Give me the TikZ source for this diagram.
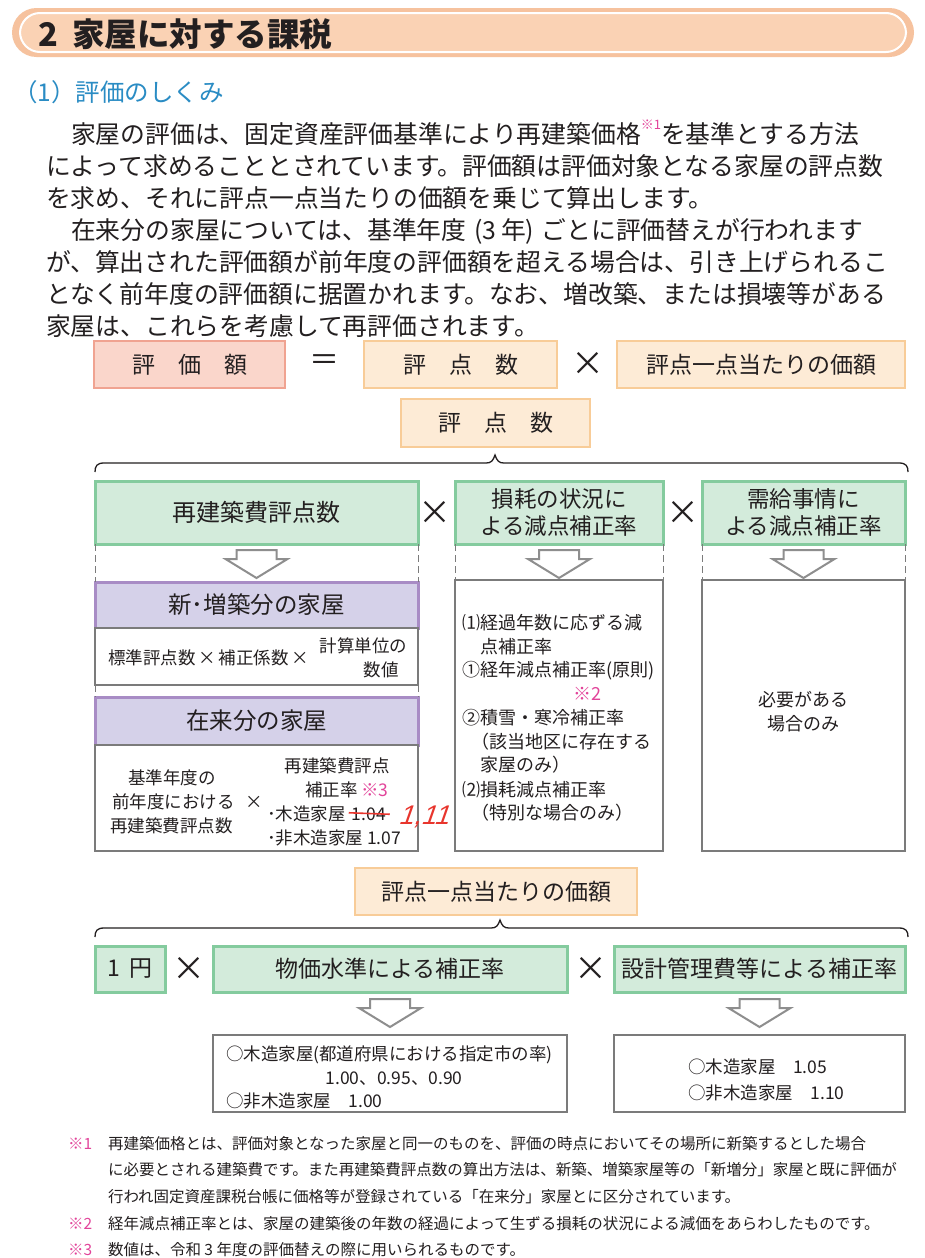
\documentclass[tikz,border=0pt]{standalone}
\usepackage{fontspec}
\setmainfont{Noto Sans CJK JP}
\newfontfamily\handfont{Liberation Sans}[FakeSlant=0.35]
\definecolor{pillout}{HTML}{F6C29E}
\definecolor{pillin}{HTML}{FAD2B4}
\definecolor{headblue}{HTML}{2A8CC4}
\definecolor{pinkfill}{HTML}{FAD6CB}
\definecolor{pinkline}{HTML}{F0A391}
\definecolor{creamfill}{HTML}{FDEBD6}
\definecolor{creamline}{HTML}{F8CC98}
\definecolor{greenfill}{HTML}{D3EBDB}
\definecolor{greenline}{HTML}{84CB9E}
\definecolor{purplefill}{HTML}{D5D1E9}
\definecolor{purpleline}{HTML}{A88CC5}
\definecolor{grayline}{HTML}{7B7B7B}
\definecolor{arrowgray}{HTML}{8E8E8E}
\definecolor{notepink}{HTML}{E2449A}
\definecolor{pen}{HTML}{E8352D}
\definecolor{ink}{HTML}{231F20}
\newcommand\fsz[1]{\fontsize{#1}{#1}\selectfont}
\newcommand\supnote[1]{\raisebox{0.55em}{\fontsize{13}{13}\selectfont\color{notepink}#1}}
\newcommand\pk[1]{{\color{notepink}#1}}
\begin{document}
\begin{tikzpicture}[x=1pt,y=-1pt,
  every node/.style={inner sep=0pt, outer sep=0pt, text=ink},
  txt/.style={anchor=base west},
  ctxt/.style={anchor=base},
  pinkbox/.style={draw=pinkline, fill=pinkfill, line width=2.2pt},
  creambox/.style={draw=creamline, fill=creamfill, line width=2.2pt},
  greenbox/.style={draw=greenline, fill=greenfill, line width=3pt},
  purplebox/.style={draw=purpleline, fill=purplefill, line width=3pt},
  graybox/.style={draw=grayline, fill=white, line width=2pt},
  dashline/.style={draw=grayline, line width=0.9pt, dash pattern=on 7pt off 4pt},
  bracestyle/.style={draw=ink, line width=1.3pt},
  timesign/.style={font={\fontsize{33}{33}\selectfont}},
  harrow/.pic={\draw[draw=arrowgray, fill=white, line width=2pt, line join=miter]
     (-20,0) -- (20,0) -- (20,9) -- (31,9) -- (0,28) -- (-31,9) -- (-20,9) -- cycle;},
]
\useasboundingbox (0,0) rectangle (924,1258);
\fill[white] (0,0) rectangle (924,1258);

% header
\path[fill=pillout, rounded corners=24.5pt] (12,8) rectangle (914,57);
\path[fill=pillin, draw=white, line width=2pt, rounded corners=20pt] (20,13) rectangle (906,52);
\node[txt] (head) at (38,46) {\fsz{32.5}\bfseries 2\hspace{0.45em}家屋に対する課税};
\node[txt, text=headblue] (sub) at (13,101) {\fsz{24.5}（1）評価のしくみ};

% body text
\node[txt] (b1) at (71,143) {\fsz{24.8}家屋の評価は、固定資産評価基準により再建築価格\supnote{※1}を基準とする方法};
\node[txt] (b2) at (46,175) {\fsz{24.8}によって求めることとされています。評価額は評価対象となる家屋の評点数};
\node[txt] (b3) at (46,207) {\fsz{24.8}を求め、それに評点一点当たりの価額を乗じて算出します。};
\node[txt] (b4) at (71,239) {\fsz{24.8}在来分の家屋については、基準年度\hspace{0.3em}(3\hspace{0.2em}年)\hspace{0.3em}ごとに評価替えが行われます};
\node[txt] (b5) at (46,271) {\fsz{24.8}が、算出された評価額が前年度の評価額を超える場合は、引き上げられるこ};
\node[txt] (b6) at (46,303) {\fsz{24.8}となく前年度の評価額に据置かれます。なお、増改築、または損壊等がある};
\node[txt] (b7) at (46,335) {\fsz{24.8}家屋は、これらを考慮して再評価されます。};

% row 1
\node[pinkbox, minimum width=191pt, minimum height=47pt] (pv) at (189.5,364.5) {\fsz{23}評\hspace{1em}価\hspace{1em}額};
\node (eq) at (324,363) {\fsz{30}＝};
\node[creambox, minimum width=193pt, minimum height=47pt] (pt1) at (460.5,364.5) {\fsz{23}評\hspace{1em}点\hspace{1em}数};
\node[timesign] (x1) at (588,364) {×};
\node[creambox, minimum width=288pt, minimum height=47pt] (pu1) at (761,364.5) {\fsz{23}評点一点当たりの価額};
\node[creambox, minimum width=189pt, minimum height=48pt] (pt2) at (495.5,423) {\fsz{23}評\hspace{1em}点\hspace{1em}数};

% brace 1
\draw[bracestyle] (95,472) .. controls (95,466) and (97,463) .. (104,463) -- (486,463)
   .. controls (491,463) and (493,461) .. (495,455) .. controls (497,461) and (499,463) .. (504,463)
   -- (899,463) .. controls (906,463) and (908,466) .. (908,472);

% green row 1
\node[greenbox, minimum width=323pt, minimum height=63pt] (g1) at (256.5,512.5) {\fsz{24}再建築費評点数};
\node[timesign] (x2) at (435,513) {×};
\node[greenbox, minimum width=208pt, minimum height=63pt, align=center, font={\fontsize{22.5}{27}\selectfont}] (g2) at (559,512.5) {損耗の状況に\\よる減点補正率};
\node[timesign] (x3) at (683,513) {×};
\node[greenbox, minimum width=203pt, minimum height=63pt, align=center, font={\fontsize{22.5}{27}\selectfont}] (g3) at (803.5,512.5) {需給事情に\\よる減点補正率};

% left column
\node[purplebox, minimum width=323pt, minimum height=46pt] (p1) at (256.5,605) {\fsz{23.5}新･増築分の家屋};
\node[graybox, minimum width=323pt, minimum height=57pt] (w1) at (256.5,656.5) {};
\node[purplebox, minimum width=323pt, minimum height=48pt] (p2) at (256.5,721) {\fsz{23.5}在来分の家屋};
\node[graybox, minimum width=323pt, minimum height=106pt] (w2) at (256.5,798) {};
% middle and right columns
\node[graybox, minimum width=208pt, minimum height=271pt] (w3) at (559,715.5) {};
\node[graybox, minimum width=203pt, minimum height=271pt] (w4) at (803.5,715.5) {};

% dashed guides
\draw[dashline] (g1.south west) -- (p1.north west);
\draw[dashline] (g1.south east) -- (p1.north east);
\draw[dashline] (w1.south west) -- (p2.north west);
\draw[dashline] (w1.south east) -- (p2.north east);
\draw[dashline] (g2.south west) -- (w3.north west);
\draw[dashline] (g2.south east) -- (w3.north east);
\draw[dashline] (g3.south west) -- (w4.north west);
\draw[dashline] (g3.south east) -- (w4.north east);

% hollow arrows
\pic (a1) at (256.5,550) {harrow};
\pic (a2) at (559,550) {harrow};
\pic (a3) at (803.5,550) {harrow};

% w1 text
\node[txt] (w1a) at (108,664) {\fsz{17.5}標準評点数\,×\,補正係数\,×};
\node[anchor=base east] (w1b) at (407,652.5) {\fsz{17.5}計算単位の};
\node[ctxt] (w1c) at (381,676.5) {\fsz{17.5}数値};

% w2 text
\node[ctxt] (w2a) at (172,784) {\fsz{17.5}基準年度の};
\node[txt] (w2b) at (112,808) {\fsz{17.5}前年度における};
\node[ctxt] (w2x) at (254,808) {\fsz{17.5}×};
\node[txt] (w2c) at (110,832) {\fsz{17.5}再建築費評点数};
\node[ctxt] (w2d) at (337,772) {\fsz{17.5}再建築費評点};
\node[txt] (w2e) at (305,796) {\fsz{17.5}補正率 \pk{※3}};
\node[txt] (w2f) at (267,820) {\fsz{17.5}･木造家屋};
\node[anchor=base west] (n104) at ([xshift=6pt]w2f.base east) {\fsz{17.5}1.04};
\draw[pen, line width=1.6pt] ([xshift=-3pt,yshift=1pt]n104.west) -- ([xshift=4pt,yshift=-0.5pt]n104.east);
\node[txt, text=pen] (hand) at (398,824) {\handfont\fsz{27}1,11};
\node[txt] (w2g) at (267,844) {\fsz{17.5}･非木造家屋 1.07};

% w3 text
\node[txt] (m1) at (462,629.5) {\fsz{18}⑴経過年数に応ずる減};
\node[txt] (m2) at (480,653.5) {\fsz{18}点補正率};
\node[txt] (m3) at (462,676.5) {\fsz{18}①経年減点補正率(原則)};
\node[txt] (m4) at (573,700.5) {\fsz{18}\pk{※2}};
\node[txt] (m5) at (462,724.5) {\fsz{18}②積雪・寒冷補正率};
\node[txt] (m6) at (471,748.5) {\fsz{18}（該当地区に存在する};
\node[txt] (m7) at (480,771.5) {\fsz{18}家屋のみ）};
\node[txt] (m8) at (462,796.5) {\fsz{18}⑵損耗減点補正率};
\node[txt] (m9) at (471,819.5) {\fsz{18}（特別な場合のみ）};

% w4 text
\node[ctxt] (r1) at (803.5,706.5) {\fsz{18}必要がある};
\node[ctxt] (r2) at (803.5,730) {\fsz{18}場合のみ};

% second section
\node[creambox, minimum width=282pt, minimum height=47pt] (pu2) at (496,891.5) {\fsz{23}評点一点当たりの価額};
\draw[bracestyle] (95,937) .. controls (95,931) and (97,928) .. (104,928) -- (491,928)
   .. controls (496,928) and (498,926) .. (500,920) .. controls (502,926) and (504,928) .. (509,928)
   -- (899,928) .. controls (906,928) and (908,931) .. (908,937);
\node[greenbox, minimum width=70pt, minimum height=46pt] (g4) at (130,969) {\fsz{23}1\hspace{0.4em}円};
\node[timesign] (x4) at (189,969) {×};
\node[greenbox, minimum width=354pt, minimum height=46pt] (g5) at (390,969) {\fsz{23}物価水準による補正率};
\node[timesign] (x5) at (591,969) {×};
\node[greenbox, minimum width=291pt, minimum height=46pt] (g6) at (759.5,969) {\fsz{23}設計管理費等による補正率};
\pic (a4) at (390,999) {harrow};
\pic (a5) at (759.5,999) {harrow};
\node[graybox, minimum width=354pt, minimum height=77pt] (w5) at (390,1073.5) {};
\node[graybox, minimum width=291pt, minimum height=77pt] (w6) at (759.5,1073.5) {};
\node[txt] (w5a) at (226,1060.5) {\fsz{17.5}○木造家屋(都道府県における指定市の率)};
\node[ctxt] (w5b) at (394,1084.5) {\fsz{17.5}1.00、0.95、0.90};
\node[txt] (w5c) at (226,1107.5) {\fsz{17.5}○非木造家屋\hspace{1em}1.00};
\node[txt] (w6a) at (688,1073.5) {\fsz{17.5}○木造家屋\hspace{1em}1.05};
\node[txt] (w6b) at (688,1099.5) {\fsz{17.5}○非木造家屋\hspace{1em}1.10};

% footnotes
\node[txt, text=notepink] (f1m) at (68,1149) {\fsz{15.5}※1};
\node[txt] (f1) at (108,1149) {\fsz{15.5}再建築価格とは、評価対象となった家屋と同一のものを、評価の時点においてその場所に新築するとした場合};
\node[txt] (f2) at (108,1175) {\fsz{15.5}に必要とされる建築費です。また再建築費評点数の算出方法は、新築、増築家屋等の「新増分」家屋と既に評価が};
\node[txt] (f3) at (108,1202) {\fsz{15.5}行われ固定資産課税台帳に価格等が登録されている「在来分」家屋とに区分されています。};
\node[txt, text=notepink] (f4m) at (68,1229) {\fsz{15.5}※2};
\node[txt] (f4) at (108,1229) {\fsz{15.5}経年減点補正率とは、家屋の建築後の年数の経過によって生ずる損耗の状況による減価をあらわしたものです。};
\node[txt, text=notepink] (f5m) at (68,1255) {\fsz{15.5}※3};
\node[txt] (f5) at (108,1255) {\fsz{15.5}数値は、令和 3 年度の評価替えの際に用いられるものです。};
\end{tikzpicture}
\end{document}
